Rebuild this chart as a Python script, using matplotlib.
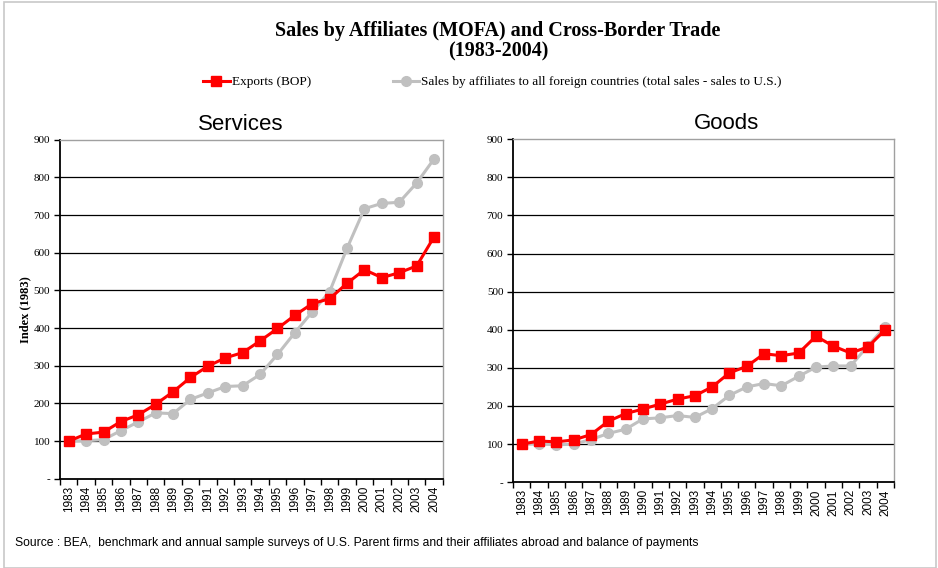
import numpy as np
import matplotlib.pyplot as plt
from matplotlib.lines import Line2D
from matplotlib.patches import Rectangle

years = [str(y) for y in range(1983, 2005)]

services_exports = [100, 119, 124, 152, 170, 198, 231, 269, 299, 321, 335,
                    366, 399, 434, 465, 478, 519, 555, 534, 547, 565, 642]
services_affiliates = [100, 101, 104, 128, 151, 175, 173, 211, 228, 245, 247,
                       277, 330, 388, 443, 497, 612, 717, 731, 734, 785, 849]
goods_exports = [100, 108, 106, 111, 125, 160, 180, 192, 205, 218, 227,
                 250, 287, 304, 337, 332, 339, 383, 357, 339, 355, 400]
goods_affiliates = [100, 101, 98, 100, 112, 128, 139, 166, 169, 175, 170,
                    193, 228, 250, 259, 253, 278, 302, 305, 305, 358, 408]

y_ticks = [0, 100, 200, 300, 400, 500, 600, 700, 800, 900]
y_labels = ['-'] + [str(v) for v in y_ticks[1:]]

RED = '#ff0000'
GREY = '#c0c0c0'
serif = 'Liberation Serif'
sans = 'Liberation Sans'

fig = plt.figure(figsize=(9.38, 5.68), dpi=100)
fig.patches.append(Rectangle((0.004, 0.0), 0.994, 0.996, transform=fig.transFigure,
                             fill=False, edgecolor='#c8c8c8', linewidth=1.2))

fig.text(0.531, 0.945, 'Sales by Affiliates (MOFA) and Cross-Border Trade',
         ha='center', va='center', family=serif, weight='bold', fontsize=14.5)
fig.text(0.531, 0.910, '(1983-2004)', ha='center', va='center',
         family=serif, weight='bold', fontsize=14.5)


def draw_panel(rect, title, title_x, exports, affiliates, ylabel=None):
    ax = fig.add_axes(rect)
    x = np.arange(len(years))
    ax.plot(x, affiliates, color=GREY, lw=2.2, marker='o', ms=7, mec=GREY, zorder=3)
    ax.plot(x, exports, color=RED, lw=2.2, marker='s', ms=7, mec=RED, zorder=4)
    ax.set_xlim(-0.5, len(years) - 0.5)
    ax.set_ylim(0, 900)
    ax.set_yticks(y_ticks)
    ax.set_yticklabels(y_labels, family=serif, fontsize=8)
    for v in y_ticks[1:-1]:
        ax.axhline(v, color='black', lw=0.9, zorder=1)
    ax.set_xticks(x)
    ax.set_xticklabels(years, rotation=90, family=sans, fontsize=8.5)
    ax.set_xticks(np.arange(-0.5, len(years)), minor=True)
    ax.tick_params(axis='x', which='major', length=0, pad=5)
    ax.tick_params(axis='x', which='minor', length=4, width=1, direction='out')
    ax.tick_params(axis='y', length=4, width=1, direction='out', pad=3)
    for s in ['left', 'bottom']:
        ax.spines[s].set_color('black')
        ax.spines[s].set_linewidth(1.3)
    for s in ['top', 'right']:
        ax.spines[s].set_color('#a0a0a0')
        ax.spines[s].set_linewidth(1.0)
    if ylabel:
        ax.set_ylabel(ylabel, family=serif, weight='bold', fontsize=9, labelpad=2)
    top = rect[1] + rect[3]
    fig.text(title_x, top + 0.027, title, ha='center', va='center',
             family=sans, fontsize=16)
    return ax


draw_panel([0.064, 0.157, 0.408, 0.597], 'Services', 0.257,
           services_exports, services_affiliates, ylabel='Index (1983)')
draw_panel([0.547, 0.151, 0.406, 0.604], 'Goods', 0.775,
           goods_exports, goods_affiliates)

handles = [Line2D([], [], color=RED, lw=2.2, marker='s', ms=7),
           Line2D([], [], color=GREY, lw=2.2, marker='o', ms=7)]
fig.legend(handles, ['Exports (BOP)',
                     'Sales by affiliates to all foreign countries (total sales - sales to U.S.)'],
           loc='center', bbox_to_anchor=(0.525, 0.855), ncol=2, frameon=False,
           prop={'family': serif, 'size': 9.5}, handlelength=2.0, handletextpad=0.15,
           columnspacing=6.2)

fig.text(0.016, 0.044, 'Source : BEA,  benchmark and annual sample surveys of U.S. Parent firms '
         'and their affiliates abroad and balance of payments',
         family=sans, fontsize=8.7, va='center')

fig.savefig('out.png', dpi=100)
